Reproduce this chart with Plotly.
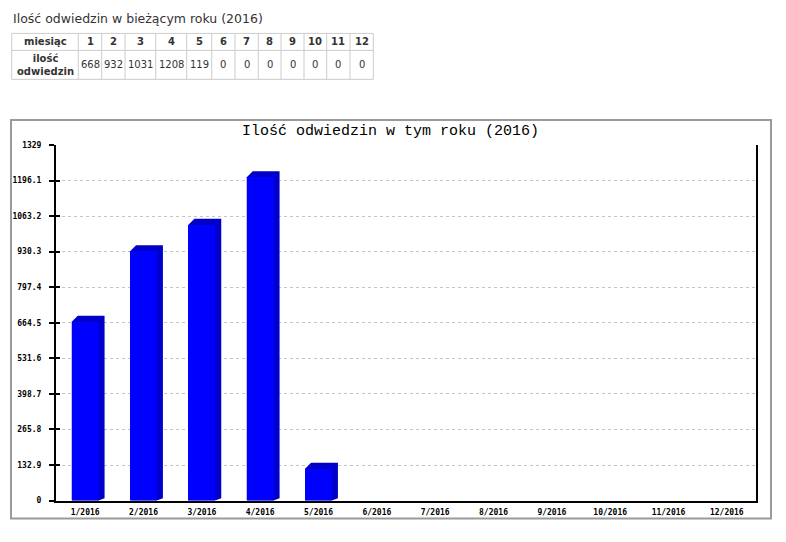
import plotly.graph_objects as go

# ---------------- data ----------------
months = [1, 2, 3, 4, 5, 6, 7, 8, 9, 10, 11, 12]
month_labels = ["1/2016", "2/2016", "3/2016", "4/2016", "5/2016", "6/2016",
                "7/2016", "8/2016", "9/2016", "10/2016", "11/2016", "12/2016"]
visits = [668, 932, 1031, 1208, 119, 0, 0, 0, 0, 0, 0, 0]
y_max = 1329
y_tick_values = [0, 132.9, 265.8, 398.7, 531.6, 664.5, 797.4, 930.3, 1063.2, 1196.1, 1329]
y_tick_labels = ["0", "132.9", "265.8", "398.7", "531.6", "664.5", "797.4",
                 "930.3", "1063.2", "1196.1", "1329"]
page_title = "Ilość odwiedzin w bieżącym roku (2016)"
chart_title = "Ilość odwiedzin w tym roku (2016)"
table_head = "miesiąc"
table_row = "ilość<br>odwiedzin"

# ---------------- layout helpers ----------------
OFF = 8  # page body margin
W, H = 786 - 2 * OFF, 542 - 2 * OFF
VK, VC = 0.984, 3.0  # empirical vertical correction of the rendering
def px(x):
    return (x - OFF) / W
def py(y):
    yy = (y - VC) / VK
    return 1 - (yy - OFF) / H

plot_l, plot_r, plot_t, plot_b = 56, 756, 144, 500
bar_w = 0.46
cat_px = (plot_r - plot_l) / len(months)
depth_px = 6
dx = depth_px / cat_px
dy = depth_px / (plot_b - plot_t) * y_max

FRONT = "#0000FF"
DARK = "#0000C8"

xs = list(range(len(months)))
fig = go.Figure()

# 3D extrusion block (top + side) derived from data; front bar is drawn over it
for i, v in zip(xs, visits):
    if v <= 0:
        continue
    xl, xr = i - bar_w / 2, i + bar_w / 2
    fig.add_trace(go.Scatter(
        x=[xl, xl + dx, xr + dx, xr + dx, xr, xl, xl],
        y=[v, v + dy, v + dy, dy * 0.4, 0, 0, v],
        fill="toself", fillcolor=DARK, line=dict(width=0), mode="lines",
        hoverinfo="skip", showlegend=False))

# front faces on an overlaying subplot so they sit on top of the extrusions
fig.add_trace(go.Bar(x=xs, y=visits, width=bar_w, marker=dict(color=FRONT, line=dict(width=0)),
                     xaxis="x2", yaxis="y2", hoverinfo="skip", showlegend=False))

shapes = []
annotations = []

# outer chart frame
shapes.append(dict(type="rect", xref="paper", yref="paper",
                   x0=px(11), x1=px(771), y0=py(518), y1=py(119),
                   line=dict(color="#9a9a9a", width=2), layer="below"))

# chart title
annotations.append(dict(text=chart_title, xref="paper", yref="paper",
                        x=px(390), y=py(131), showarrow=False,
                        font=dict(family="Liberation Mono", size=15, color="#000"),
                        xanchor="center", yanchor="middle"))

# page heading
annotations.append(dict(text=page_title, xref="paper", yref="paper",
                        x=px(11), y=py(17), showarrow=False,
                        font=dict(family="DejaVu Sans", size=12.5, color="#333"),
                        xanchor="left", yanchor="middle"))

# table
col_edges = [11.7, 78.3, 101.7, 125, 155.7, 186.7, 211.7, 235, 258.3, 281, 304, 326.7, 350, 373.3]
row_edges = [32.3, 49.3, 78.3]
tcol = "#cccccc"
for xe in col_edges:
    shapes.append(dict(type="line", xref="paper", yref="paper",
                       x0=px(xe), x1=px(xe), y0=py(row_edges[0]), y1=py(row_edges[-1]),
                       line=dict(color=tcol, width=1)))
for ye in row_edges:
    shapes.append(dict(type="line", xref="paper", yref="paper",
                       x0=px(col_edges[0]), x1=px(col_edges[-1]), y0=py(ye), y1=py(ye),
                       line=dict(color=tcol, width=1)))

hy = (row_edges[0] + row_edges[1]) / 2
dyr = (row_edges[1] + row_edges[2]) / 2
tfont = dict(family="DejaVu Sans", size=10, color="#333")
annotations.append(dict(text="<b>%s</b>" % table_head, xref="paper", yref="paper",
                        x=px((col_edges[0] + col_edges[1]) / 2), y=py(hy),
                        showarrow=False, font=tfont, xanchor="center", yanchor="middle"))
annotations.append(dict(text="<b>%s</b>" % table_row, xref="paper", yref="paper",
                        x=px((col_edges[0] + col_edges[1]) / 2), y=py(dyr),
                        showarrow=False, font=tfont, xanchor="center", yanchor="middle"))
for k, (m, v) in enumerate(zip(months, visits)):
    cx = px((col_edges[k + 1] + col_edges[k + 2]) / 2)
    annotations.append(dict(text="<b>%d</b>" % m, xref="paper", yref="paper",
                            x=cx, y=py(hy), showarrow=False, font=tfont,
                            xanchor="center", yanchor="middle"))
    annotations.append(dict(text=str(v), xref="paper", yref="paper",
                            x=cx, y=py(dyr), showarrow=False, font=tfont,
                            xanchor="center", yanchor="middle"))

tick_font = dict(family="DejaVu Sans Mono", size=8, color="#000", weight="bold")
xdom = [px(plot_l), px(plot_r)]
ydom = [py(plot_b), py(plot_t)]
xrng = [-0.5, len(months) - 0.5]

fig.update_layout(
    width=W, height=H, autosize=False,
    margin=dict(l=0, r=0, t=0, b=0),
    paper_bgcolor="white", plot_bgcolor="white",
    shapes=shapes, annotations=annotations,
    bargap=0,
    xaxis=dict(domain=xdom, range=xrng,
               tickmode="array", tickvals=xs, ticktext=month_labels,
               showgrid=False, zeroline=False, showline=True, linecolor="#000", linewidth=2,
               ticks="", tickfont=tick_font, ticklabelstandoff=3, fixedrange=True),
    yaxis=dict(domain=ydom, range=[0, y_max],
               tickmode="array", tickvals=y_tick_values, ticktext=y_tick_labels,
               showgrid=True, gridcolor="#c4c4c4", griddash="3px,3px", gridwidth=1,
               zeroline=False, showline=True, linecolor="#000", linewidth=2, mirror=True,
               ticks="outside", ticklen=5, tickwidth=2, tickcolor="#000",
               tickfont=tick_font, ticklabelstandoff=6, fixedrange=True),
    xaxis2=dict(overlaying="x", domain=xdom, range=xrng, visible=False, fixedrange=True),
    yaxis2=dict(overlaying="y", domain=ydom, range=[0, y_max], fixedrange=True,
                tickmode="array", tickvals=y_tick_values, showticklabels=False,
                ticks="inside", ticklen=4, tickwidth=2, tickcolor="#000",
                showgrid=False, zeroline=False, showline=False),
)

fig.write_html("out.html")
